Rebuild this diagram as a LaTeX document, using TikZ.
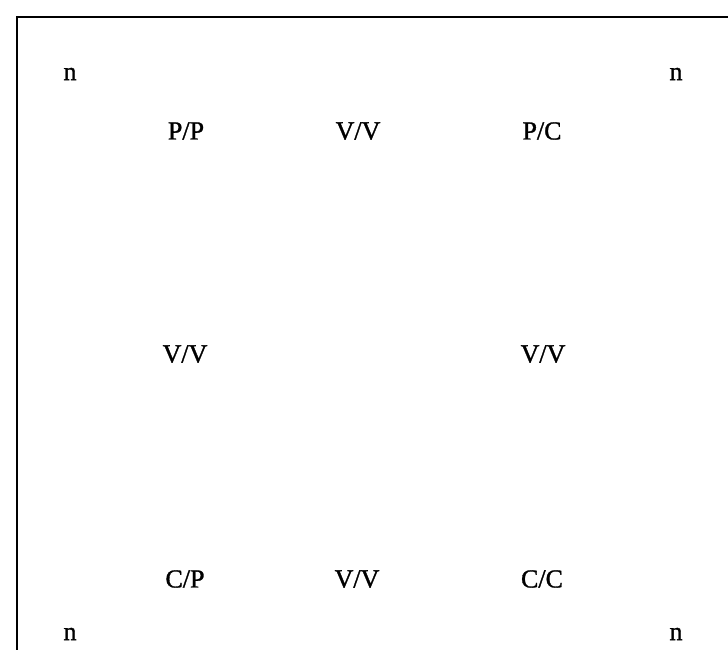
\documentclass[tikz,border=0pt]{standalone}
\usepackage{fontspec}
\setmainfont{Liberation Serif}
\newfontfamily\scanfont[FakeBold=1.2]{Liberation Serif}
\begin{document}
\begin{tikzpicture}[x=1pt,y=-1pt,
  lbl/.style={inner sep=0pt,font=\scanfont\fontsize{26}{30}\selectfont},
  frame/.style={line width=2pt,black}]
\useasboundingbox (0,0) rectangle (728,649);
\draw[frame] (17,700) -- (17,17) -- (760,17);
\node[lbl] (n1) at (70,74) {n};
\node[lbl] (n2) at (676,74) {n};
\node[lbl] (pp) at (186,131) {P/P};
\node[lbl] (vv1) at (358,131) {V/V};
\node[lbl] (pc) at (542,131) {P/C};
\node[lbl] (vv2) at (185,354) {V/V};
\node[lbl] (vv3) at (543,354) {V/V};
\node[lbl] (cp) at (185,579) {C/P};
\node[lbl] (vv4) at (357,579) {V/V};
\node[lbl] (cc) at (542,579) {C/C};
\node[lbl] (n3) at (70,634) {n};
\node[lbl] (n4) at (676,634) {n};
\end{tikzpicture}
\end{document}
